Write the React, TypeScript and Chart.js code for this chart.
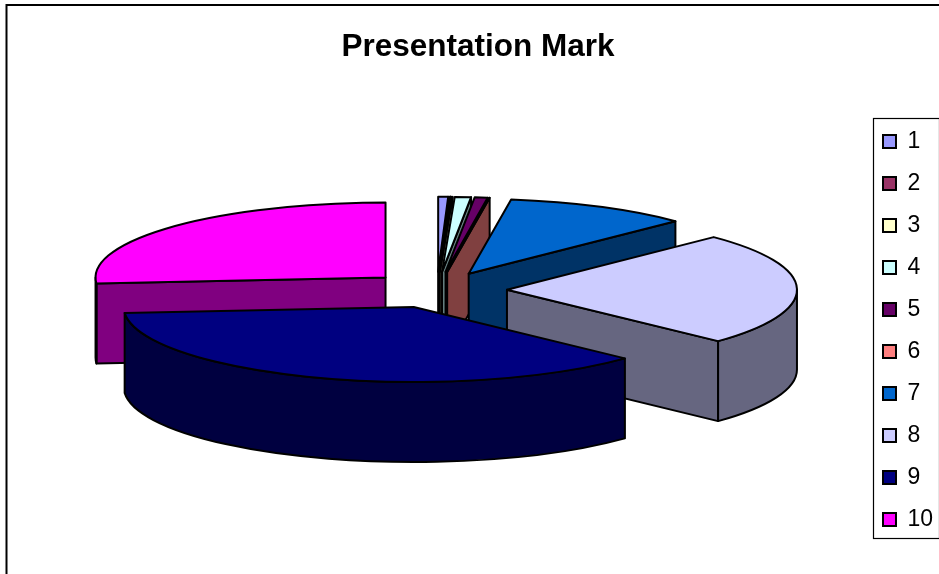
import React, { useEffect, useRef } from "react";
import { Chart, registerables } from "chart.js";

Chart.register(...registerables);

const categories = ["1", "2", "3", "4", "5", "6", "7", "8", "9", "10"];
const marks = [0.55, 0.05, 0.1, 0.9, 0.72, 0.02, 10.29, 24.39, 36.72, 26.26];
const colours = ["#9999FF", "#993366", "#FFFFCC", "#CCFFFF", "#660066", "#FF8080", "#0066CC", "#CCCCFF", "#000080", "#FF00FF"];

const TILT = 75 / 290;
const DEPTH = 80;
const RADIUS = 290;
const EXPLODE = 70;

function darken(hex: string) {
  const n = parseInt(hex.slice(1), 16);
  const h = (v: number) => Math.round(v / 2);
  return `rgb(${h((n >> 16) & 255)},${h((n >> 8) & 255)},${h(n & 255)})`;
}

const pie3d = {
  id: "pie3d",
  afterLayout(chart: any) {
    chart.legend.left = 864;
    chart.legend.right = 939;
    chart.legend.top = 111;
    chart.legend.bottom = 574;
    chart.titleBlock.left += 1.5;
    chart.titleBlock.right += 1.5;
  },
  beforeDraw(chart: any) {
    const { ctx } = chart;
    ctx.save();
    ctx.strokeStyle = "#000";
    ctx.lineWidth = 2;
    ctx.beginPath();
    ctx.moveTo(6.5, 574);
    ctx.lineTo(6.5, 5);
    ctx.lineTo(939, 5);
    ctx.stroke();
    ctx.lineWidth = 1.2;
    ctx.strokeRect(873.5, 118.5, 66, 420);
    ctx.restore();
  },
  beforeDatasetsDraw(chart: any) {
    const { ctx } = chart;
    const arcs = chart.getDatasetMeta(0).data.map((arc: any, i: number) => {
      const mid = (arc.startAngle + arc.endAngle) / 2;
      const off = arc.options.offset;
      return {
        x: arc.x + Math.cos(mid) * off,
        y: arc.y + Math.sin(mid) * off * TILT,
        a: arc.startAngle,
        b: arc.endAngle,
        r: arc.outerRadius,
        colour: colours[i],
        lw: arc.options.borderWidth,
      };
    });
    arcs.sort((p: any, q: any) => p.y - q.y);
    ctx.save();
    ctx.strokeStyle = "#000";
    ctx.lineJoin = "round";
    for (const s of arcs) {
      ctx.lineWidth = s.lw;
      const px = (t: number) => s.x + Math.cos(t) * s.r;
      const py = (t: number) => s.y + Math.sin(t) * s.r * TILT;
      const face = (t: number) => {
        ctx.beginPath();
        ctx.moveTo(s.x, s.y);
        ctx.lineTo(px(t), py(t));
        ctx.lineTo(px(t), py(t) + DEPTH);
        ctx.lineTo(s.x, s.y + DEPTH);
        ctx.closePath();
        ctx.fillStyle = darken(s.colour);
        ctx.fill();
        ctx.stroke();
      };
      if (Math.cos(s.a) < 0) face(s.a);
      if (Math.cos(s.b) > 0) face(s.b);
      const from = Math.max(s.a, 0);
      const to = Math.min(s.b, Math.PI);
      if (to > from) {
        ctx.beginPath();
        ctx.ellipse(s.x, s.y, s.r, s.r * TILT, 0, from, to);
        ctx.ellipse(s.x, s.y + DEPTH, s.r, s.r * TILT, 0, to, from, true);
        ctx.closePath();
        ctx.fillStyle = darken(s.colour);
        ctx.fill();
        ctx.stroke();
      }
      ctx.beginPath();
      ctx.moveTo(s.x, s.y);
      ctx.ellipse(s.x, s.y, s.r, s.r * TILT, 0, s.a, s.b);
      ctx.closePath();
      ctx.fillStyle = s.colour;
      ctx.fill();
      ctx.stroke();
    }
    ctx.restore();
    return false;
  },
};

export default function App() {
  const ref = useRef<HTMLCanvasElement>(null);
  useEffect(() => {
    const chart = new Chart(ref.current as HTMLCanvasElement, {
      type: "pie",
      data: {
        labels: categories,
        datasets: [
          {
            data: marks,
            backgroundColor: colours,
            borderColor: "#000",
            borderWidth: 2,
            offset: EXPLODE,
            radius: RADIUS,
          } as any,
        ],
      },
      options: {
        responsive: false,
        animation: false,
        layout: { padding: { left: 14, bottom: 64 } },
        plugins: {
          title: {
            display: true,
            text: "Presentation Mark",
            color: "#000",
            font: { family: "Liberation Sans", size: 31.5, weight: "bold" },
            padding: { top: 28, bottom: 4 },
          },
          legend: {
            position: "right",
            align: "start",
            labels: {
              color: "#000",
              boxWidth: 13,
              boxHeight: 13,
              padding: 19,
              font: { family: "Liberation Sans", size: 23 },
            },
          },
          tooltip: { enabled: false },
        },
      },
      plugins: [pie3d],
    } as any);
    return () => chart.destroy();
  }, []);
  return (
    <div style={{ position: "fixed", left: 0, top: 0, width: 939, height: 574, background: "#fff" }}>
      <canvas ref={ref} width={939} height={574} style={{ display: "block" }} />
    </div>
  );
}
